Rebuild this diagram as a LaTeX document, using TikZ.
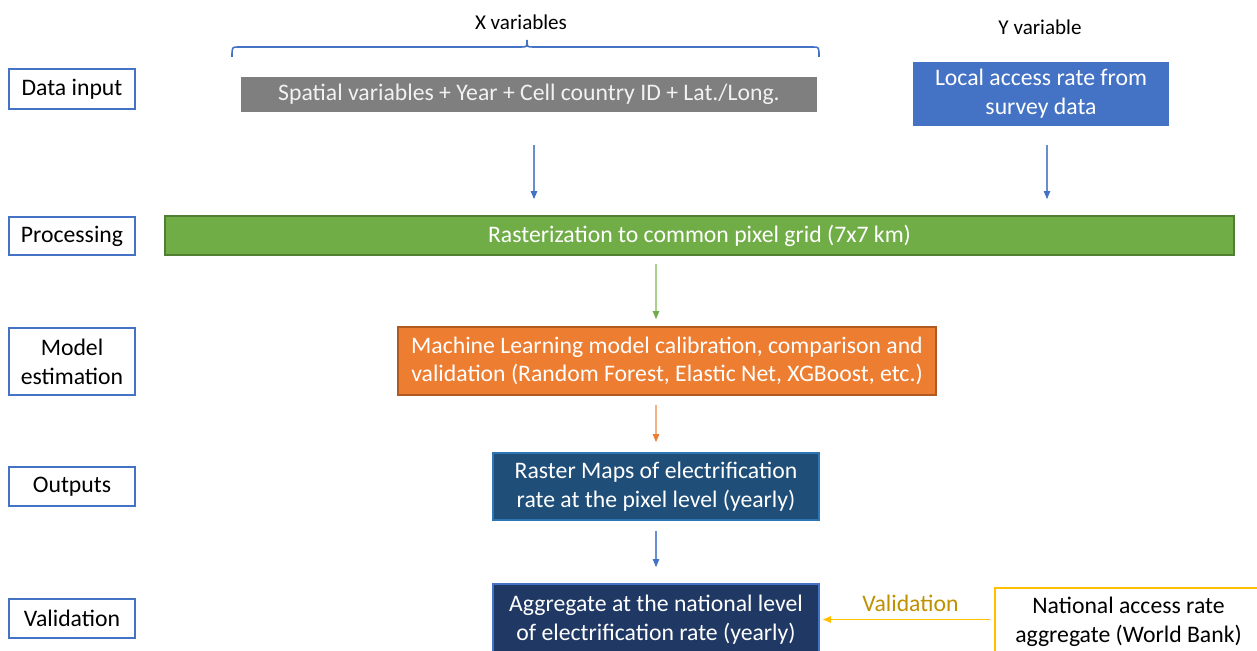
\documentclass[tikz,border=0pt]{standalone}
\usepackage{fontspec}
\setmainfont{Carlito}
\usetikzlibrary{arrows.meta,positioning,calc}
\definecolor{ofBlue}{HTML}{4472C4}
\definecolor{ofGray}{HTML}{7F7F7F}
\definecolor{ofGreen}{HTML}{70AD47}
\definecolor{ofGreenDk}{HTML}{507E32}
\definecolor{ofGreenLt}{HTML}{A9D18E}
\definecolor{ofOrange}{HTML}{ED7D31}
\definecolor{ofOrangeDk}{HTML}{AE5A21}
\definecolor{ofOrangeLt}{HTML}{F4B183}
\definecolor{ofNavy}{HTML}{1F4E79}
\definecolor{ofNavyDk}{HTML}{203864}
\definecolor{ofSky}{HTML}{2E75B6}
\definecolor{ofGold}{HTML}{FFC000}
\definecolor{ofGoldDk}{HTML}{BF9000}

\begin{document}
\begin{tikzpicture}[
    x=0.02cm, y=-0.02cm,
    txt/.style={font=\fontsize{13.5}{16.4}\selectfont},
    stage/.style={txt,draw=ofBlue,line width=1.1pt,fill=white,minimum width=2.52cm,align=center,inner sep=1pt},
    box/.style={txt,align=center,text=white,inner sep=1pt},
    arr/.style={-{Triangle[length=4.5pt,width=3.6pt,color=#1]},line width=0.6pt},
    arr/.default=ofBlue
]
\clip (0,0) rectangle (1257,651);

% row labels on the left
\node[stage,minimum height=0.80cm] (din)  at (72,89)    {Data input};
\node[stage,minimum height=0.76cm] (proc) at (72,236)   {Processing};
\node[stage,minimum height=1.34cm] (est)  at (72,361.5) {Model\\estimation};
\node[stage,minimum height=0.78cm] (outp) at (72,486.5) {Outputs};
\node[stage,minimum height=0.78cm] (val)  at (72,618.5) {Validation};

% inputs
\node[font=\fontsize{12}{14}\selectfont] (xlab) at (521,22) {X variables};
\node[font=\fontsize{12}{14}\selectfont] (ylab) at (1040,27) {Y variable};
\draw[ofBlue,line width=0.9pt] (232,57) .. controls (232,47) .. (238,47) -- (521,47)
    .. controls (527,47) .. (527,40) .. controls (527,47) .. (533,47) -- (813,47)
    .. controls (819,47) .. (819,57);
\node[box,fill=ofGray,text=white!95!black,minimum width=11.52cm,minimum height=0.70cm] (xin) at (529,94.5)
    {Spatial variables + Year + Cell country ID + Lat./Long.};
\node[box,fill=ofBlue,minimum width=5.12cm,minimum height=1.28cm] (yin) at (1041,94)
    {Local access rate from\\survey data};

% processing chain
\node[box,fill=ofGreen,draw=ofGreenDk,line width=1pt,minimum width=21.38cm,minimum height=0.78cm] (grid) at (699.5,235.5)
    {Rasterization to common pixel grid (7x7 km)};
\node[box,fill=ofOrange,draw=ofOrangeDk,line width=1pt,minimum width=10.76cm,minimum height=1.36cm] (ml) at (667,361)
    {Machine Learning model calibration, comparison and\\validation (Random Forest, Elastic Net, XGBoost, etc.)};
\node[box,fill=ofNavy,draw=ofSky,line width=1pt,minimum width=6.52cm,minimum height=1.34cm] (raster) at (656,486.5)
    {Raster Maps of electrification\\rate at the pixel level (yearly)};
\node[box,fill=ofNavyDk,draw=ofBlue,line width=1pt,minimum width=6.52cm,minimum height=1.42cm] (agg) at (656,619.5)
    {Aggregate at the national level\\of electrification rate (yearly)};
\node[txt,draw=ofGold,line width=1pt,fill=white,align=center,minimum width=5.34cm,minimum height=1.36cm] (wb) at (1128.5,622)
    {National access rate\\aggregate (World Bank)};

\draw[arr,ofBlue!80,shorten <=0.66cm,shorten >=0.32cm] ([xshift=0.1cm]xin.south) -- ([xshift=0.1cm]xin.south |- grid.north);
\draw[arr,ofBlue!80,shorten <=0.38cm,shorten >=0.32cm] ([xshift=0.12cm]yin.south) -- ([xshift=0.12cm]yin.south |- grid.north);
\draw[arr=ofGreen,ofGreenLt,shorten <=0.16cm,shorten >=0.14cm] (grid.south -| raster.north) -- (ml.north -| raster.north);
\draw[arr=ofOrange,ofOrangeLt,shorten <=0.18cm,shorten >=0.2cm] (ml.south -| raster.north) -- (raster.north);
\draw[arr,ofBlue!80,shorten <=0.2cm,shorten >=0.32cm] (raster) -- (agg);
\draw[arr=ofGold,ofGold,line width=0.8pt,shorten <=0.08cm,shorten >=0.06cm] (agg.east -| wb.west) -- node[above=1pt,txt,text=ofGoldDk,pos=0.48] {Validation} (agg.east);
\end{tikzpicture}
\end{document}
